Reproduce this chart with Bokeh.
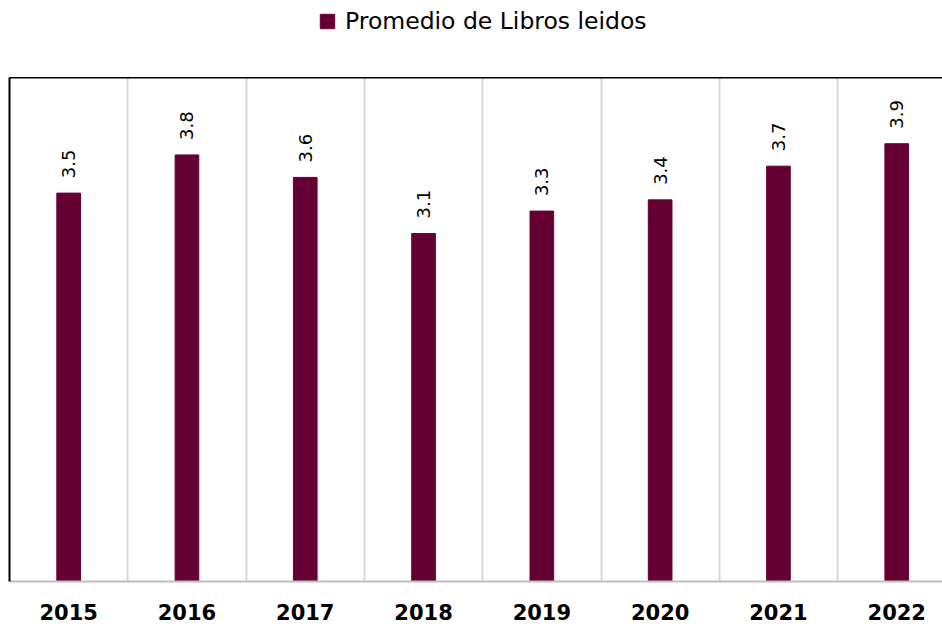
import math
from bokeh.plotting import figure
from bokeh.layouts import column
from bokeh.core.properties import value
from bokeh.models import (ColumnDataSource, FixedTicker, LinearAxis, Legend, LegendItem,
                          LabelSet, Range1d)
from bokeh.embed import file_html
from bokeh.resources import INLINE

years = ["2015", "2016", "2017", "2018", "2019", "2020", "2021", "2022"]
values = [3.46, 3.8, 3.6, 3.1, 3.3, 3.4, 3.7, 3.9]
series_name = "Promedio de Libros leidos"

BAR_COLOR = "#660033"
W = 942
LEG_H = 77
H = 628 - LEG_H
LEFT, RIGHT, TOP, BOTTOM = 9, 0, 0, 47
band_px = 118.3
frame_w = W - LEFT - RIGHT
x_end = -0.5 + frame_w / band_px

xs = list(range(len(years)))
src = ColumnDataSource(dict(x=xs, top=values, lab=[f"{v:.1f}" for v in values]))

p = figure(width=W, height=H, output_backend="svg", toolbar_location=None,
           x_range=Range1d(-0.5, x_end), y_range=Range1d(0, 4.49),
           min_border_left=LEFT, min_border_right=RIGHT, min_border_top=TOP,
           min_border_bottom=BOTTOM, x_axis_location="below", y_axis_location="left")
p.outline_line_color = None
p.background_fill_color = "white"
p.border_fill_color = "white"

bars = p.vbar(x="x", top="top", width=0.2, source=src, fill_color=BAR_COLOR,
              line_color=BAR_COLOR)

labels = LabelSet(x="x", y="top", text="lab", source=src, angle=math.pi / 2,
                  text_align="left", text_baseline="middle", y_offset=15,
                  text_font=value("DejaVu Sans"), text_font_size="18px",
                  text_color="#000000")
p.add_layout(labels)

# x axis
xa = p.xaxis[0]
xa.ticker = FixedTicker(ticks=xs)
xa.major_label_overrides = {i: y for i, y in zip(xs, years)}
xa.major_tick_line_color = None
xa.minor_tick_line_color = None
xa.axis_line_color = "#bfbfbf"
xa.axis_line_width = 2
xa.major_label_text_font = "DejaVu Sans"
xa.major_label_text_font_style = "bold"
xa.major_label_text_font_size = "21px"
xa.major_label_text_color = "#000000"
xa.major_label_standoff = 16

# y axis: only a black line
ya = p.yaxis[0]
ya.ticker = FixedTicker(ticks=[])
ya.major_tick_line_color = None
ya.minor_tick_line_color = None
ya.major_label_text_font_size = "0px"
ya.major_label_standoff = 0
ya.axis_line_color = "#000000"
ya.axis_line_width = 2

# top line
top_ax = LinearAxis(ticker=FixedTicker(ticks=[]), major_tick_line_color=None,
                    minor_tick_line_color=None, major_label_text_font_size="0px",
                    major_label_standoff=0, axis_line_color="#000000", axis_line_width=2)
p.add_layout(top_ax, "above")

p.ygrid.visible = False
p.xgrid.ticker = FixedTicker(ticks=[i + 0.5 for i in xs])
p.xgrid.grid_line_color = "#d9d9d9"
p.xgrid.grid_line_width = 2

# legend strip above the chart
lg = figure(width=W, height=LEG_H, output_backend="svg", toolbar_location=None,
            x_range=Range1d(-0.5, x_end), y_range=Range1d(0, 4.49),
            min_border_left=0, min_border_right=0, min_border_top=0, min_border_bottom=0,
            x_axis_location=None, y_axis_location=None)
lg.outline_line_color = None
lg.grid.visible = False
proxy = lg.vbar(x="x", top="top", width=0.2, source=src, fill_color=BAR_COLOR,
                line_color=BAR_COLOR, visible=False)
legend = Legend(items=[LegendItem(label=series_name, renderers=[proxy])],
                orientation="horizontal", location=(309, 42),
                border_line_color=None, background_fill_alpha=0,
                inactive_fill_alpha=0,
                label_text_font="DejaVu Sans", label_text_font_size="23.5px",
                label_text_color="#000000", glyph_width=18, glyph_height=18,
                label_standoff=9, padding=2, margin=0)
lg.add_layout(legend, "center")

layout = column(lg, p, spacing=0)
open("out.html", "w").write(file_html(layout, INLINE))
